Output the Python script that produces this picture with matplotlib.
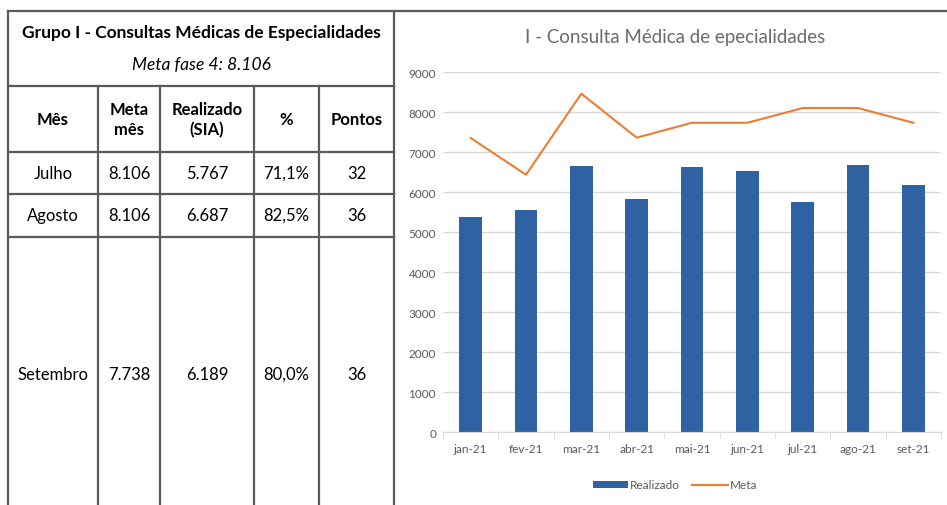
import matplotlib
matplotlib.use("Agg")
import matplotlib.pyplot as plt
from matplotlib.lines import Line2D
import numpy as np

plt.rcParams["font.family"] = ["Lato", "DejaVu Sans"]

# chart data
months = ["jan-21", "fev-21", "mar-21", "abr-21", "mai-21", "jun-21", "jul-21", "ago-21", "set-21"]
realizado = [5375, 5557, 6650, 5833, 6640, 6533, 5767, 6687, 6189]
meta = [7358, 6440, 8465, 7366, 7738, 7738, 8106, 8106, 7738]

# table data
table_title = "Grupo I - Consultas Médicas de Especialidades"
table_subtitle = "Meta fase 4: 8.106"
headers = ["Mês", "Meta\nmês", "Realizado\n(SIA)", "%", "Pontos"]
rows = [
    ["Julho", "8.106", "5.767", "71,1%", "32"],
    ["Agosto", "8.106", "6.687", "82,5%", "36"],
    ["Setembro", "7.738", "6.189", "80,0%", "36"],
]

W, H = 947, 506
fig = plt.figure(figsize=(W / 100, H / 100), dpi=100)


def fx(x):
    return x / W


def fy(y):
    return 1 - y / H


def hline(y, x0, x1):
    fig.add_artist(Line2D([fx(x0), fx(x1)], [fy(y), fy(y)], color="#5a5a5a", lw=1.6))


def vline(x, y0, y1):
    fig.add_artist(Line2D([fx(x), fx(x)], [fy(y0), fy(y1)], color="#5a5a5a", lw=1.6))


# --- table grid ---
col_x = [8, 98, 160, 254, 319, 394]
row_y = [87, 153, 195, 238]
hline(12, 8, W)
for y in row_y:
    hline(y, 8, 394)
vline(8, 12, H)
vline(394, 12, H)
for x in col_x[1:-1]:
    vline(x, 87, H)

fig.text(fx(201), fy(33), table_title, ha="center", va="center", fontsize=12.5, fontweight="bold")
fig.text(fx(201), fy(65), table_subtitle, ha="center", va="center", fontsize=12.5, style="italic")

row_centers = [120, 174, 216, 375]
for j, h in enumerate(headers):
    cx = (col_x[j] + col_x[j + 1]) / 2
    fig.text(fx(cx), fy(row_centers[0]), h, ha="center", va="center", fontsize=12,
             fontweight="bold", linespacing=1.3)
for i, r in enumerate(rows):
    for j, v in enumerate(r):
        cx = (col_x[j] + col_x[j + 1]) / 2
        fig.text(fx(cx), fy(row_centers[i + 1]), v, ha="center", va="center", fontsize=12)

# --- chart ---
left, right, top, bottom = 443, 941, 73.3, 433.3
ax = fig.add_axes([fx(left), fy(bottom), fx(right - left), (bottom - top) / H])
x = np.arange(len(months))
bars = ax.bar(x, realizado, width=0.41, color="#2f62a3", label="Realizado", zorder=2)
line, = ax.plot(x, meta, color="#ed7d31", lw=1.5, label="Meta", zorder=3)

ax.set_xlim(-0.5, len(months) - 0.5)
ax.set_ylim(0, 9000)
ax.set_yticks(range(0, 9001, 1000))
ax.yaxis.grid(True, color="#d9d9d9", lw=1)
ax.set_axisbelow(True)
for s in ["top", "right", "left"]:
    ax.spines[s].set_visible(False)
ax.spines["bottom"].set_color("#d9d9d9")
ax.set_xticks(x)
ax.set_xticklabels(months)
ax.set_xticks(np.arange(-0.5, len(months)), minor=True)
ax.tick_params(axis="x", which="major", length=0, pad=8, labelsize=8.5, labelcolor="#595959")
ax.tick_params(axis="x", which="minor", length=5, color="#d9d9d9", direction="out")
ax.tick_params(axis="y", length=0, pad=5, labelsize=8.5, labelcolor="#595959")

fig.text(fx(675), fy(38), "I - Consulta Médica de epecialidades", ha="center", va="center",
         fontsize=13.5, color="#6b6b6b")

leg = ax.legend(handles=[bars, line], loc="center", bbox_to_anchor=(fx(675), fy(486)),
                bbox_transform=fig.transFigure, ncol=2, frameon=False, fontsize=8.5,
                handlelength=3.0, handleheight=0.6, columnspacing=1.0, handletextpad=0.2)
for t in leg.get_texts():
    t.set_color("#595959")

fig.savefig("out.png", dpi=100)
